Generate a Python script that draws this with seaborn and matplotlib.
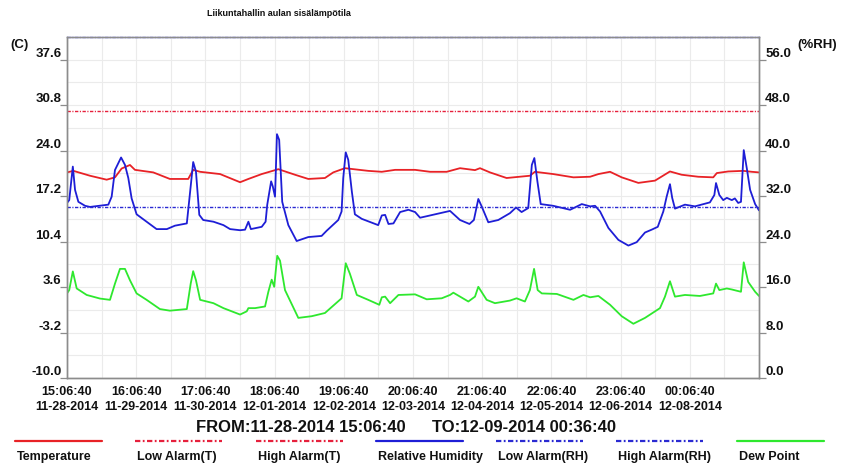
import matplotlib
matplotlib.use("Agg")
import matplotlib.pyplot as plt
from matplotlib.lines import Line2D
import pandas as pd
import seaborn as sns

# ---------------------------------------------------------------- data
title = "Liikuntahallin aulan sisälämpötila"
span_hours = 249.5  # 11-28-2014 15:06:40 .. 12-09-2014 00:36:40

tick_times = ["15:06:40", "16:06:40", "17:06:40", "18:06:40", "19:06:40",
              "20:06:40", "21:06:40", "22:06:40", "23:06:40", "00:06:40"]
tick_dates = ["11-28-2014", "11-29-2014", "11-30-2014", "12-01-2014", "12-02-2014",
              "12-03-2014", "12-04-2014", "12-05-2014", "12-06-2014", "12-08-2014"]

temp_ticks = [-10.0, -3.2, 3.6, 10.4, 17.2, 24.0, 30.8, 37.6]
rh_ticks = [0.0, 8.0, 16.0, 24.0, 32.0, 40.0, 48.0, 56.0]

high_alarm_t = 30.0
low_alarm_rh = 30.0
high_alarm_rh = 60.0

temp_hours = [0, 2.3, 8.3, 14.3, 17.3, 19.7, 22.7, 24.5, 31.1, 37.1,
              43.7, 45.5, 48.0, 55.2, 62.4, 65.4, 70.2, 76.2, 82.2, 87.0,
              93.0, 96.0, 100.2, 108.6, 113.5, 118.3, 125.5, 130.9, 136.9, 141.7,
              147.1, 148.9, 152.5, 158.5, 166.9, 168.7, 175.3, 182.6, 188.6, 191.6,
              195.8, 200.0, 206.0, 212.0, 217.4, 221.6, 227.6, 233.0, 234.3, 238.4,
              243.8, 246.9, 249.5]
temp_c = [20.75, 20.98, 20.25, 19.66, 20.01, 21.33, 21.86, 21.13, 20.75, 19.77,
          19.77, 21.13, 20.84, 20.50, 19.28, 19.77, 20.50, 21.23, 20.40, 19.77,
          19.91, 20.75, 21.38, 20.98, 20.84, 21.13, 21.13, 20.84, 20.84, 21.38,
          21.09, 21.38, 20.75, 19.91, 20.25, 20.84, 20.50, 20.01, 20.10, 20.50,
          20.84, 20.01, 19.18, 19.52, 20.89, 20.40, 20.10, 20.01, 20.65, 20.89,
          20.98, 20.84, 20.75]

rh_hours = [0, 0.8, 2.1, 2.9, 4.1, 6.5, 8.3, 14.9, 16.1, 17.3,
            18.5, 19.5, 20.9, 22.1, 23.3, 25.1, 28.7, 32.3, 36.0, 38.9,
            43.2, 44.4, 45.5, 46.5, 47.7, 49.1, 52.8, 56.4, 58.8, 62.4,
            64.2, 65.4, 66.3, 70.2, 71.6, 72.2, 73.6, 74.2, 75.0, 75.7,
            76.5, 77.6, 79.8, 82.8, 87.0, 91.8, 93.6, 97.8, 99.0, 99.6,
            100.5, 101.4, 102.7, 103.8, 106.3, 112.2, 113.5, 114.7, 115.9, 117.7,
            120.1, 123.1, 125.5, 127.3, 134.5, 138.1, 139.9, 141.7, 145.1, 146.7,
            148.3, 149.5, 151.9, 155.5, 159.7, 161.9, 163.9, 166.3, 167.6, 168.5,
            169.6, 170.8, 175.3, 181.4, 185.6, 188.6, 190.4, 192.2, 195.2, 198.8,
            202.4, 205.4, 208.4, 210.8, 213.0, 215.0, 216.2, 217.4, 218.2, 219.2,
            222.8, 226.4, 231.8, 233.4, 234.0, 235.2, 236.6, 237.9, 239.7, 240.8,
            242.0, 243.0, 244.0, 245.1, 246.3, 248.1, 249.5]
rh_pct = [30.8, 31.3, 37.2, 33.1, 31.0, 30.3, 30.1, 30.5, 31.9, 36.6,
          37.8, 38.8, 37.5, 35.2, 31.6, 28.8, 27.5, 26.2, 26.2, 26.8,
          27.2, 32.8, 38.0, 36.3, 28.7, 27.8, 27.5, 26.9, 26.2, 26.0,
          26.1, 27.5, 26.2, 26.6, 27.5, 30.5, 34.6, 33.7, 31.9, 42.9,
          41.9, 31.0, 26.9, 24.1, 24.8, 25.0, 25.9, 27.8, 29.3, 35.2,
          39.7, 38.4, 32.8, 28.8, 28.0, 26.9, 28.6, 28.7, 27.1, 27.2,
          29.2, 29.6, 29.2, 28.2, 29.0, 29.4, 28.6, 27.8, 27.1, 27.8,
          31.5, 30.2, 27.4, 27.8, 29.0, 30.0, 29.2, 29.9, 37.5, 38.7,
          34.6, 30.6, 30.3, 29.6, 30.6, 30.2, 30.3, 29.3, 26.4, 24.3,
          23.3, 23.9, 25.6, 26.1, 26.6, 29.3, 31.9, 34.1, 31.7, 29.8,
          30.5, 30.2, 30.9, 32.2, 34.3, 32.2, 31.3, 31.7, 31.3, 31.6,
          30.8, 31.0, 40.1, 36.9, 33.1, 30.6, 29.5]

dew_hours = [0, 0.8, 2.1, 3.5, 7.1, 11.9, 15.5, 17.3, 19.1, 20.9,
             22.7, 25.1, 28.7, 33.5, 37.1, 43.2, 44.6, 45.5, 46.5, 48.0,
             52.8, 56.4, 62.4, 64.8, 65.4, 67.8, 71.4, 72.6, 73.8, 74.7,
             75.8, 76.8, 78.6, 83.4, 88.2, 93.0, 99.0, 100.5, 102.0, 104.5,
             108.6, 112.6, 113.5, 114.7, 116.5, 119.5, 125.5, 129.7, 135.1, 138.1,
             139.3, 144.7, 147.1, 148.3, 151.3, 154.3, 159.7, 162.1, 165.1, 166.9,
             168.4, 169.7, 171.2, 176.6, 182.6, 186.2, 188.6, 191.6, 195.8, 200.0,
             204.2, 208.4, 213.8, 215.6, 217.4, 219.2, 222.8, 228.2, 233.0, 234.0,
             235.2, 237.9, 239.7, 241.5, 243.0, 244.0, 245.6, 248.1, 249.5]
dew_c = [2.65, 3.15, 5.94, 3.39, 2.42, 1.88, 1.69, 4.12, 6.32, 6.32,
         4.62, 2.65, 1.69, 0.31, 0.07, 0.31, 4.12, 5.98, 4.62, 1.69,
         1.19, 0.45, -0.51, -0.03, 0.45, 0.45, 0.70, 2.90, 4.71, 3.64,
         8.28, 7.55, 3.15, -1.01, -0.76, -0.28, 1.92, 7.16, 5.59, 2.42,
         1.69, 0.95, 2.07, 2.17, 1.19, 2.42, 2.51, 1.77, 1.92, 2.42,
         2.76, 1.44, 2.17, 3.64, 1.69, 1.19, 1.58, 1.92, 1.44, 3.15,
         6.32, 3.15, 2.65, 2.57, 1.69, 2.42, 2.07, 2.27, 0.95, -0.76,
         -1.89, -1.01, 0.45, 2.17, 4.47, 2.17, 2.42, 2.27, 2.65, 4.12,
         3.15, 3.39, 3.24, 3.05, 2.90, 7.30, 4.37, 2.90, 2.27]

# ---------------------------------------------------------------- style
RED = "#e82226"
RED_ALARM = "#e6203c"
BLUE = "#1e1ed6"
BLUE_ALARM = "#2a2ad2"
GREEN = "#2ee82e"
AXIS_GRAY = "#8c8c8c"
GRID = "#ebebeb"
DASHDOT = (0, (2.4, 1.1, 0.8, 1.1))

sns.set_style("white")
plt.rcParams["font.family"] = ["Liberation Sans", "DejaVu Sans"]

W, H = 854, 467
fig = plt.figure(figsize=(W / 100, H / 100), dpi=100)
fig.patch.set_facecolor("white")

left_px, right_px, top_px, bottom_px = 67, 759, 37, 378
ax = fig.add_axes([left_px / W, 1 - bottom_px / H,
                   (right_px - left_px) / W, (bottom_px - top_px) / H])
ax2 = ax.twinx()

temp_df = pd.DataFrame({"hours": temp_hours, "value": temp_c})
dew_df = pd.DataFrame({"hours": dew_hours, "value": dew_c})
rh_df = pd.DataFrame({"hours": rh_hours, "value": rh_pct})

sns.lineplot(data=temp_df, x="hours", y="value", ax=ax, color=RED,
             linewidth=1.3, estimator=None, sort=False, legend=False)
sns.lineplot(data=dew_df, x="hours", y="value", ax=ax, color=GREEN,
             linewidth=1.3, estimator=None, sort=False, legend=False)
sns.lineplot(data=rh_df, x="hours", y="value", ax=ax2, color=BLUE,
             linewidth=1.3, estimator=None, sort=False, legend=False)

ax.axhline(high_alarm_t, color=RED_ALARM, linewidth=1.0, linestyle=DASHDOT)
ax2.axhline(low_alarm_rh, color=BLUE_ALARM, linewidth=1.0, linestyle=DASHDOT)
ax2.axhline(high_alarm_rh, color=BLUE_ALARM, linewidth=1.0, linestyle=DASHDOT,
            clip_on=False, alpha=0.6)

ax.set_xlim(0, span_hours)
ax.set_ylim(-10, 40)
ax2.set_ylim(0, 60)

step = span_hours / 10
major_x = [i * step for i in range(len(tick_times))]
minor_x = [(i + 0.5) * step for i in range(10)]
ax.set_xticks(major_x, labels=[f"{t}\n{d}" for t, d in zip(tick_times, tick_dates)],
              fontsize=9, fontweight="bold", linespacing=1.3)
ax.set_xticks(minor_x, minor=True)

minor_y = [v + 3.4 for v in temp_ticks]
ax.set_yticks(temp_ticks, labels=[f"{v:.1f}" for v in temp_ticks],
              fontsize=9.5, fontweight="bold")
ax.set_yticks(minor_y, minor=True)
ax2.set_yticks(rh_ticks, labels=[f"{v:.1f}" for v in rh_ticks],
               fontsize=9.5, fontweight="bold")

ax.grid(True, which="both", color=GRID, linewidth=0.8)
ax2.grid(False)
ax.set_xlabel("")
ax.set_ylabel("")
ax2.set_ylabel("")

for a in (ax, ax2):
    for side in ("left", "right", "bottom", "top"):
        a.spines[side].set_color(AXIS_GRAY)
        a.spines[side].set_linewidth(1.0)
        a.spines[side].set_visible(True)
ax.spines["top"].set_color("#9090c8")

ax.tick_params(axis="x", which="major", direction="out", length=4, width=0.9,
               color=AXIS_GRAY, pad=2, labelcolor="#111111")
ax.tick_params(axis="y", which="major", direction="out", length=5, width=0.9,
               color=AXIS_GRAY, pad=-1, labelcolor="#111111")
ax.tick_params(which="minor", length=0)
ax2.tick_params(axis="y", direction="out", length=5, width=0.9,
                color=AXIS_GRAY, pad=-0.5, labelcolor="#111111")

for lbl in ax.get_yticklabels() + ax2.get_yticklabels():
    lbl.set_verticalalignment("bottom")

# ---------------------------------------------------------------- texts
fig.text(279 / W, 1 - 14 / H, title, ha="center", va="center",
         fontsize=6.5, fontweight="bold", color="#111111")
fig.text(10 / W, 1 - 45 / H, "(C)", ha="left", va="center",
         fontsize=9.5, fontweight="bold", color="#111111")
fig.text(797 / W, 1 - 45 / H, "(%RH)", ha="left", va="center",
         fontsize=9.5, fontweight="bold", color="#111111")

fig.text(196 / W, 1 - 428 / H, "FROM:11-28-2014 15:06:40", ha="left", va="center",
         fontsize=12, fontweight="bold", color="#111111")
fig.text(432 / W, 1 - 428 / H, "TO:12-09-2014 00:36:40", ha="left", va="center",
         fontsize=12, fontweight="bold", color="#111111")

# ---------------------------------------------------------------- legend row
legend_items = [
    ("Temperature", RED, "-"),
    ("Low Alarm(T)", RED_ALARM, DASHDOT),
    ("High Alarm(T)", RED_ALARM, DASHDOT),
    ("Relative Humidity", BLUE, "-"),
    ("Low Alarm(RH)", BLUE_ALARM, DASHDOT),
    ("High Alarm(RH)", BLUE_ALARM, DASHDOT),
    ("Dew Point", GREEN, "-"),
]
for i, (name, col, ls) in enumerate(legend_items):
    x0 = 15 + i * 120.3
    fig.add_artist(Line2D([x0 / W, (x0 + 87) / W], [1 - 441 / H, 1 - 441 / H],
                          transform=fig.transFigure, color=col, linestyle=ls,
                          linewidth=1.6))
    fig.text((x0 + 2) / W, 1 - 457 / H, name, ha="left", va="center",
             fontsize=9, fontweight="bold", color="#111111")

fig.savefig("out.png", dpi=100, facecolor="white")
